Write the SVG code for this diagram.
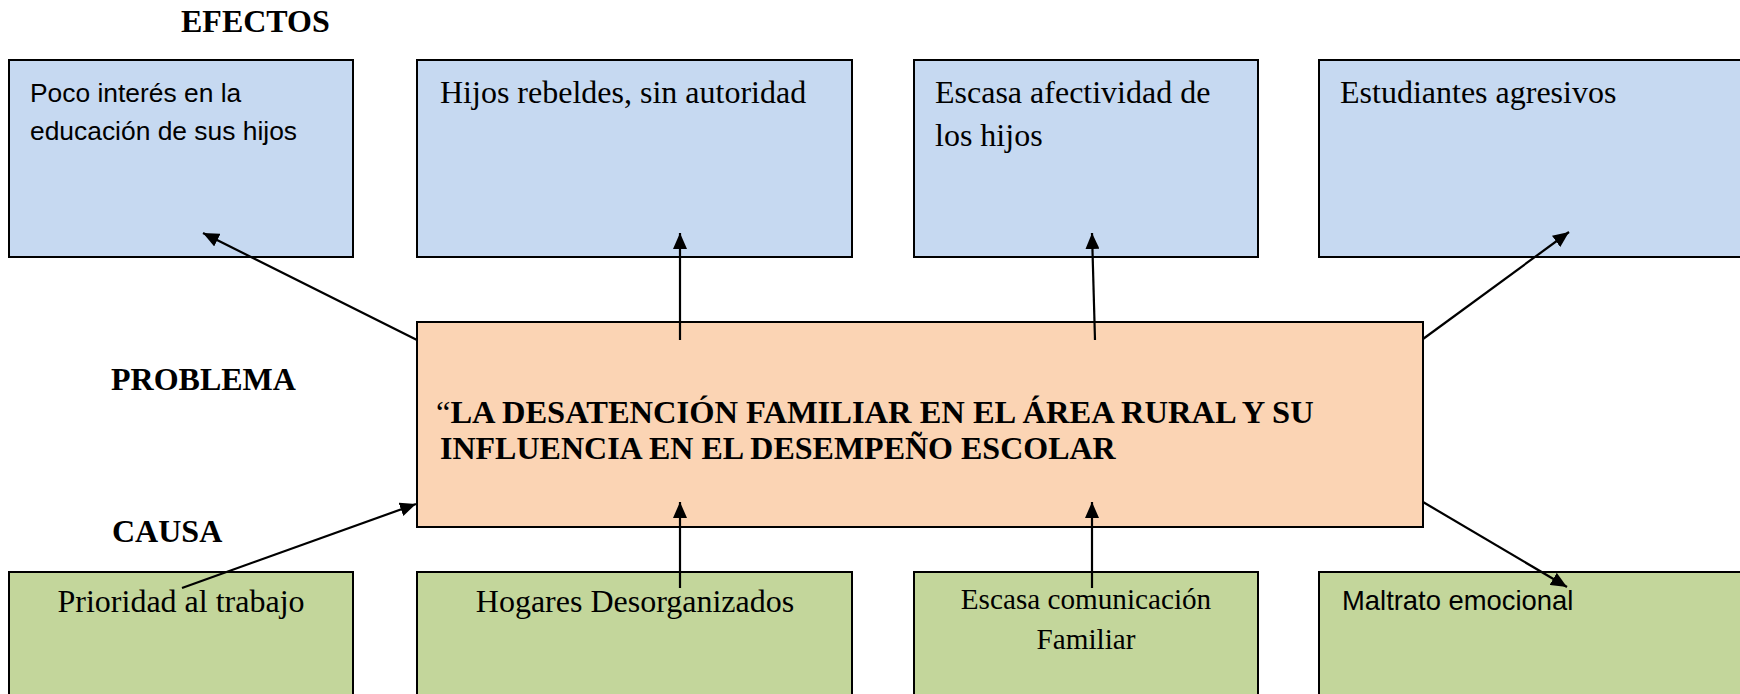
<svg xmlns="http://www.w3.org/2000/svg" width="1740" height="694" viewBox="0 0 1740 694">
<defs>
<style>
.eff{fill:#C6D9F1;stroke:#000;stroke-width:2}
.prob{fill:#FBD4B4;stroke:#000;stroke-width:2}
.cau{fill:#C3D69B;stroke:#000;stroke-width:2}
.serif{font-family:"Liberation Serif","Times New Roman",serif;font-size:32px;fill:#000}
.sans{font-family:"Liberation Sans",Arial,sans-serif;font-size:26.4px;fill:#000}
.bold{font-weight:bold}
.con{stroke:#000;stroke-width:2.2;fill:none;marker-end:url(#ah)}
</style>
<marker id="ah" viewBox="0 0 16 14" refX="16" refY="7" markerWidth="16" markerHeight="14" markerUnits="userSpaceOnUse" orient="auto">
<path d="M0,0 L16,7 L0,14 Z" fill="#000"/>
</marker>
</defs>
<rect width="1740" height="694" fill="#fff"/>

<g id="labels">
<text class="serif bold" x="181" y="32">EFECTOS</text>
<text class="serif bold" x="111" y="390">PROBLEMA</text>
<text class="serif bold" x="112" y="542">CAUSA</text>
</g>

<g id="effect1">
<rect class="eff" x="9" y="60" width="344" height="197"/>
<text class="sans" x="30" y="102">Poco interés en la</text>
<text class="sans" x="30" y="140">educación de sus hijos</text>
</g>
<g id="effect2">
<rect class="eff" x="417" y="60" width="435" height="197"/>
<text class="serif" x="440" y="103">Hijos rebeldes, sin autoridad</text>
</g>
<g id="effect3">
<rect class="eff" x="914" y="60" width="344" height="197"/>
<text class="serif" x="935" y="103">Escasa afectividad de</text>
<text class="serif" x="935" y="146">los hijos</text>
</g>
<g id="effect4">
<rect class="eff" x="1319" y="60" width="440" height="197"/>
<text class="serif" x="1340" y="103">Estudiantes agresivos</text>
</g>

<g id="problem">
<rect class="prob" x="417" y="322" width="1006" height="205"/>
<text class="serif" x="436" y="423" style="font-size:32.5px">“<tspan class="bold">LA DESATENCIÓN FAMILIAR EN EL ÁREA RURAL Y SU</tspan></text>
<text class="serif bold" x="440" y="459" style="font-size:32px">INFLUENCIA EN EL DESEMPEÑO ESCOLAR</text>
</g>

<g id="cause1">
<rect class="cau" x="9" y="572" width="344" height="140"/>
<text class="serif" x="181" y="612" text-anchor="middle">Prioridad al trabajo</text>
</g>
<g id="cause2">
<rect class="cau" x="417" y="572" width="435" height="140"/>
<text class="serif" x="635" y="612" text-anchor="middle">Hogares Desorganizados</text>
</g>
<g id="cause3">
<rect class="cau" x="914" y="572" width="344" height="140"/>
<text class="serif" x="1086" y="609" text-anchor="middle" style="font-size:29.2px">Escasa comunicación</text>
<text class="serif" x="1086" y="649" text-anchor="middle" style="font-size:29.2px">Familiar</text>
</g>
<g id="cause4">
<rect class="cau" x="1319" y="572" width="440" height="140"/>
<text class="sans" x="1342" y="610" style="font-size:27.4px">Maltrato emocional</text>
</g>

<g id="connectors">
<line class="con" x1="417" y1="340" x2="203" y2="233"/>
<line class="con" x1="680" y1="340" x2="680" y2="233"/>
<line class="con" x1="1095" y1="340" x2="1092" y2="233"/>
<line class="con" x1="1423" y1="339" x2="1569" y2="232"/>
<line class="con" x1="182" y1="588" x2="416" y2="504"/>
<line class="con" x1="680" y1="588" x2="680" y2="502"/>
<line class="con" x1="1092" y1="588" x2="1092" y2="502"/>
<line class="con" x1="1423" y1="502" x2="1567" y2="587"/>
</g>
</svg>
